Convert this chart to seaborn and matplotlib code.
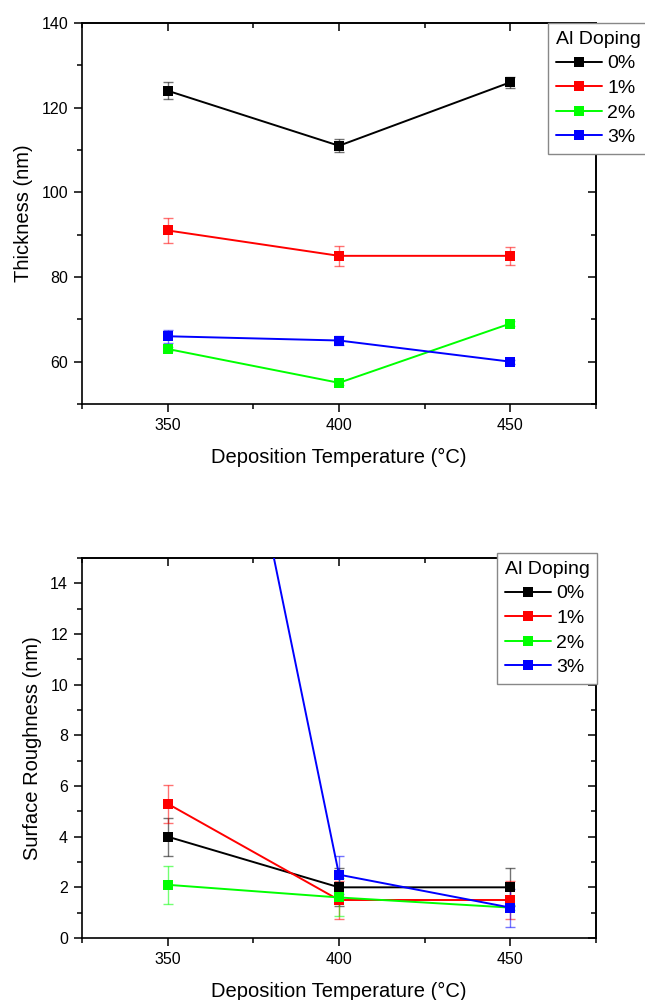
import matplotlib
matplotlib.use("Agg")
import matplotlib.pyplot as plt
from matplotlib.ticker import MultipleLocator, AutoMinorLocator, NullFormatter
import seaborn as sns
import pandas as pd

# ---- data ----
temps = [350, 400, 450]
dopings = ["0%", "1%", "2%", "3%"]
colors = ["#000000", "#ff0000", "#00ff00", "#0000ff"]

thick_0 = [124, 111, 126]
thick_1 = [91, 85, 85]
thick_2 = [63, 55, 69]
thick_3 = [66, 65, 60]
thick_err_0 = [2.0, 1.5, 1.3]
thick_err_1 = [3.0, 2.4, 2.2]
thick_err_2 = [0.5, 0.5, 0.5]
thick_err_3 = [1.5, 1.0, 0.5]

rough_0 = [4.0, 2.0, 2.0]
rough_1 = [5.3, 1.5, 1.5]
rough_2 = [2.1, 1.6, 1.2]
rough_3 = [35.4, 2.5, 1.2]
rough_err_0 = [0.75, 0.75, 0.75]
rough_err_1 = [0.75, 0.75, 0.75]
rough_err_2 = [0.75, 0.75, 0.1]
rough_err_3 = [0.75, 0.75, 0.75]

thick_vals = [thick_0, thick_1, thick_2, thick_3]
thick_errs = [thick_err_0, thick_err_1, thick_err_2, thick_err_3]
rough_vals = [rough_0, rough_1, rough_2, rough_3]
rough_errs = [rough_err_0, rough_err_1, rough_err_2, rough_err_3]

sns.set_style("ticks")
plt.rcParams["font.family"] = ["Liberation Sans", "DejaVu Sans"]
plt.rcParams["text.color"] = "black"
plt.rcParams["axes.labelcolor"] = "black"
plt.rcParams["xtick.color"] = "black"
plt.rcParams["ytick.color"] = "black"
plt.rcParams["axes.edgecolor"] = "black"

W, H = 645, 1000
fig = plt.figure(figsize=(W / 100, H / 100), dpi=100)
ax1 = fig.add_axes([82 / W, 1 - 404 / H, (596 - 82) / W, (404 - 23) / H])
ax2 = fig.add_axes([82 / W, 1 - 938 / H, (596 - 82) / W, (938 - 558) / H])


def draw(ax, vals, errs, ylabel, ylim, ymaj, ymin_div, leg_xy):
    for lab, col, v, e in zip(dopings, colors, vals, errs):
        df = pd.DataFrame({"temp": temps, "val": v})
        ax.errorbar(temps, v, yerr=e, fmt="none", ecolor=col, alpha=0.55,
                    elinewidth=1.0, capsize=3.5, capthick=1.0, zorder=2)
        sns.lineplot(data=df, x="temp", y="val", color=col, marker="s",
                     markersize=7, markeredgewidth=0, linewidth=1.4,
                     label=lab, ax=ax, zorder=3)
    ax.set_xlim(325, 475)
    ax.set_ylim(*ylim)
    ax.xaxis.set_major_locator(MultipleLocator(50))
    ax.xaxis.set_minor_locator(AutoMinorLocator(2))
    ax.yaxis.set_major_locator(MultipleLocator(ymaj))
    ax.yaxis.set_minor_locator(AutoMinorLocator(ymin_div))
    ax.tick_params(axis="both", which="major", direction="out", length=6,
                   width=1.1, labelsize=11.5, pad=4)
    ax.tick_params(axis="both", which="minor", direction="out", length=3.5,
                   width=1.1)
    for s in ax.spines.values():
        s.set_linewidth(1.2)
        s.set_visible(True)
    ax.set_xlabel("Deposition Temperature (°C)", fontsize=14.5, labelpad=11)
    ax.set_ylabel(ylabel, fontsize=14.5, labelpad=6)

    sx = ax.secondary_xaxis("top")
    sx.xaxis.set_major_locator(MultipleLocator(50))
    sx.xaxis.set_minor_locator(AutoMinorLocator(2))
    sx.xaxis.set_major_formatter(NullFormatter())
    sx.tick_params(which="major", direction="in", length=6, width=1.1)
    sx.tick_params(which="minor", direction="in", length=3.5, width=1.1)
    sx.spines["top"].set_linewidth(1.2)
    sy = ax.secondary_yaxis("right")
    sy.yaxis.set_major_locator(MultipleLocator(ymaj))
    sy.yaxis.set_minor_locator(AutoMinorLocator(ymin_div))
    sy.yaxis.set_major_formatter(NullFormatter())
    sy.tick_params(which="major", direction="in", length=6, width=1.1)
    sy.tick_params(which="minor", direction="in", length=3.5, width=1.1)
    sy.spines["right"].set_linewidth(1.2)

    leg = ax.legend(title="Al Doping", loc="upper left",
                    bbox_to_anchor=(leg_xy[0] / W, 1 - leg_xy[1] / H),
                    bbox_transform=fig.transFigure, fontsize=14,
                    title_fontsize=14, alignment="left", frameon=True,
                    fancybox=False, framealpha=1, edgecolor="#888888",
                    handlelength=2.4, handletextpad=0.25,
                    labelspacing=0.36, borderpad=0.4,
                    borderaxespad=0)
    leg.get_frame().set_linewidth(1.0)
    leg.set_zorder(10)


draw(ax1, thick_vals, thick_errs, "Thickness (nm)", (50, 140), 20, 2,
     (548, 23))
draw(ax2, rough_vals, rough_errs, "Surface Roughness (nm)", (0, 15), 2, 2,
     (497, 553))

fig.savefig("out.png", dpi=100)
